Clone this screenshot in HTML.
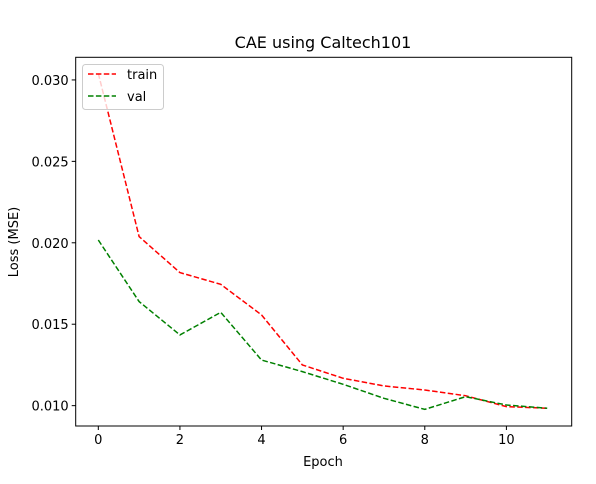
<!DOCTYPE html>
<html><head><meta charset="utf-8"><style>
html,body{margin:0;padding:0;background:#fff;}
text{font-family:"DejaVu Sans","Liberation Sans",sans-serif;fill:#000;}
</style></head><body>
<svg id="chart" width="596" height="479" xmlns="http://www.w3.org/2000/svg">
<rect x="0" y="0" width="596" height="479" fill="#fff"/>
<text x="323" y="48" font-size="16" text-anchor="middle">CAE using Caltech101</text>
<g id="marks"></g>
<rect x="75.7" y="57.3" width="496" height="368.7" fill="none" stroke="#000" stroke-width="1"/>
<g id="axes"></g>
<text x="323" y="466" font-size="13" text-anchor="middle">Epoch</text>
<text transform="translate(18,242) rotate(-90)" font-size="13" text-anchor="middle">Loss (MSE)</text>
<g>
<rect x="82.5" y="64.5" width="81" height="45" rx="3" fill="#fff" fill-opacity="0.8" stroke="#ccc"/>
<line x1="88" y1="74" x2="116" y2="74" stroke="#f00" stroke-width="1.5" stroke-dasharray="5.5,2.4"/>
<text x="127" y="79" font-size="13">train</text>
<line x1="88" y1="96" x2="116" y2="96" stroke="#008000" stroke-width="1.5" stroke-dasharray="5.5,2.4"/>
<text x="127" y="101" font-size="13">val</text>
</g>
</svg>
<script>
const epochs = [0,1,2,3,4,5,6,7,8,9,10,11];
const trainLoss = [0.0304,0.02038,0.01817,0.01745,0.01557,0.0125,0.01168,0.01121,0.01096,0.01061,0.00994,0.00984];
const valLoss = [0.02017,0.01639,0.01434,0.01573,0.0128,0.01209,0.01131,0.01045,0.00977,0.01055,0.01004,0.00984];
const xTicks = [0,2,4,6,8,10];
const yTicks = [0.010,0.015,0.020,0.025,0.030];
const yTickLabels = ["0.010","0.015","0.020","0.025","0.030"];

const L=75.7,R=571.7,T=57.3,B=426;
const xMin=-0.554,xMax=11.6,yMin=0.00875,yMax=0.03139;
function xs(v){return L+(v-xMin)/(xMax-xMin)*(R-L);}
function ys(v){return B-(v-yMin)/(yMax-yMin)*(B-T);}
const NS="http://www.w3.org/2000/svg";
const marks=document.getElementById('marks');
const axes=document.getElementById('axes');
function series(data,color,name){
  const p=document.createElementNS(NS,'polyline');
  p.setAttribute('points',data.map((v,i)=>xs(epochs[i])+','+ys(v)).join(' '));
  p.setAttribute('fill','none');
  p.setAttribute('stroke',color);
  p.setAttribute('stroke-width','1.5');
  p.setAttribute('stroke-dasharray','5.5,2.4');
  
  
  marks.appendChild(p);
}
series(trainLoss,'#f00','train-line');
series(valLoss,'#008000','val-line');
xTicks.forEach(t=>{
  const x=xs(t);
  const l=document.createElementNS(NS,'line');
  l.setAttribute('x1',x);l.setAttribute('x2',x);l.setAttribute('y1',B);l.setAttribute('y2',B+4);
  l.setAttribute('stroke','#000');
  
  
  axes.appendChild(l);
  const tx=document.createElementNS(NS,'text');
  tx.setAttribute('x',x);tx.setAttribute('y',B+18);tx.setAttribute('font-size','13');tx.setAttribute('text-anchor','middle');
  tx.textContent=t;
  
  
  axes.appendChild(tx);
});
yTicks.forEach((t,i)=>{
  const y=ys(t);
  const l=document.createElementNS(NS,'line');
  l.setAttribute('x1',L-4);l.setAttribute('x2',L);l.setAttribute('y1',y);l.setAttribute('y2',y);
  l.setAttribute('stroke','#000');
  
  
  axes.appendChild(l);
  const tx=document.createElementNS(NS,'text');
  tx.setAttribute('x',L-7);tx.setAttribute('y',y+5);tx.setAttribute('font-size','13');tx.setAttribute('text-anchor','end');
  tx.textContent=yTickLabels[i];
  
  
  axes.appendChild(tx);
});
</script>
</body></html>
